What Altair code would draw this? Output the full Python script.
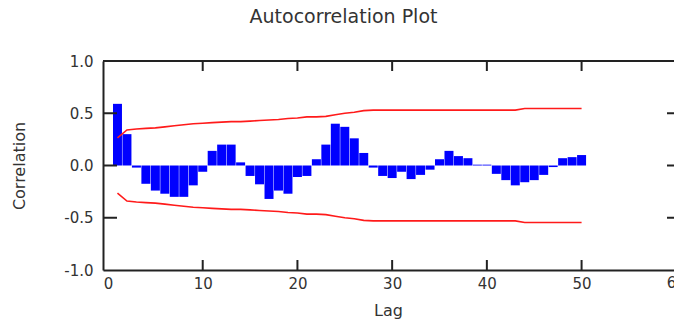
import altair as alt
import pandas as pd

# Sample autocorrelation by lag
lags = list(range(1, 51))
acf = [0.59, 0.30, -0.02, -0.175, -0.24, -0.27, -0.30, -0.30, -0.19, -0.06,
       0.14, 0.20, 0.20, 0.03, -0.10, -0.18, -0.32, -0.24, -0.27, -0.11,
       -0.10, 0.06, 0.20, 0.40, 0.37, 0.26, 0.12, -0.02, -0.10, -0.12,
       -0.06, -0.13, -0.09, -0.04, 0.06, 0.14, 0.09, 0.07, 0.008, 0.008,
       -0.08, -0.14, -0.19, -0.16, -0.14, -0.09, -0.015, 0.07, 0.08, 0.10]

# Half-width of the confidence band at each lag
band = [0.265, 0.34, 0.35, 0.355, 0.36, 0.37, 0.38, 0.39, 0.40, 0.405,
        0.41, 0.415, 0.42, 0.42, 0.425, 0.43, 0.435, 0.44, 0.45, 0.455,
        0.465, 0.465, 0.47, 0.485, 0.50, 0.51, 0.525, 0.53, 0.53, 0.53,
        0.53, 0.53, 0.53, 0.53, 0.53, 0.53, 0.53, 0.53, 0.53, 0.53,
        0.53, 0.53, 0.53, 0.545, 0.545, 0.545, 0.545, 0.545, 0.545, 0.545]

x_ticks = [0, 10, 20, 30, 40, 50, 60]
y_ticks = [-1.0, -0.5, 0.0, 0.5, 1.0]

FONT = "DejaVu Sans"
TEXT = "#333333"
AXIS = "#222222"
W, H = 571, 209

acf_df = pd.DataFrame({"lag": lags, "acf": acf})
band_df = pd.DataFrame({
    "lag": lags * 2,
    "acf": band + [-b for b in band],
    "side": ["upper"] * len(lags) + ["lower"] * len(lags),
})

x_scale = alt.Scale(domain=[0, 59.23], nice=False, zero=False)
y_scale = alt.Scale(domain=[-1, 1], nice=False)

x_axis = alt.Axis(
    values=x_ticks, format="d", tickSize=0, labelPadding=6, labelFlush=False,
    labelFont=FONT, labelFontSize=15, labelColor=TEXT,
    domainColor=AXIS, domainWidth=2, grid=False,
    title="Lag", titleFont=FONT, titleFontSize=16, titleFontWeight="normal",
    titleColor=TEXT, titleX=285, titleY=45, titleBaseline="alphabetic",
)
y_axis = alt.Axis(
    values=y_ticks, tickSize=0, labelPadding=10, labelFlush=False,
    labelExpr="(datum.value < 0 ? '-' : '') + format(abs(datum.value), '.1f')",
    labelFont=FONT, labelFontSize=15, labelColor=TEXT,
    domainColor=AXIS, domainWidth=2, grid=False,
    title="Correlation", titleFont=FONT, titleFontSize=16, titleFontWeight="normal",
    titleColor=TEXT, titleAngle=270, titleX=-84, titleY=104.5, titleBaseline="middle",
)

X = alt.X("lag:Q", scale=x_scale, axis=x_axis)
Y = alt.Y("acf:Q", scale=y_scale, axis=y_axis)

bars = alt.Chart(acf_df).mark_bar(size=9, color="#0000ff").encode(x=X, y=Y)

limits = alt.Chart(band_df).mark_line(color="#ff1a1a", strokeWidth=1.6).encode(
    x=X, y=Y, detail="side:N"
)

# Frame: top edge and inward-pointing ticks on all four sides
frame_top = alt.Chart(pd.DataFrame({"k": [0]})).mark_rule(color=AXIS, strokeWidth=2).encode(
    x=alt.value(0), x2=alt.value(W), y=alt.value(0)
)
xt_df = pd.DataFrame({"lag": x_ticks[1:-1]})
yt_df = pd.DataFrame({"acf": y_ticks[1:-1]})
tick_style = dict(color=AXIS, strokeWidth=2)
bottom_ticks = alt.Chart(xt_df).mark_rule(**tick_style).encode(
    x=X, y=alt.value(H), y2=alt.value(H - 10)
)
top_ticks = alt.Chart(xt_df).mark_rule(**tick_style).encode(
    x=X, y=alt.value(0), y2=alt.value(10)
)
left_ticks = alt.Chart(yt_df).mark_rule(**tick_style).encode(
    y=Y, x=alt.value(0), x2=alt.value(14)
)
right_ticks = alt.Chart(yt_df).mark_rule(**tick_style).encode(
    y=Y, x=alt.value(564), x2=alt.value(578)
)

# Last x tick label, which sits past the right edge of the visible area
edge_label = alt.Chart(pd.DataFrame({"lag": [x_ticks[-1]]})).mark_text(
    font=FONT, fontSize=15, color=TEXT, align="center", baseline="top"
).encode(x=X, y=alt.value(H + 6), text=alt.Text("lag:Q", format="d"))

chart = alt.layer(
    bars, limits, frame_top, bottom_ticks, top_ticks, left_ticks, right_ticks, edge_label
).properties(
    width=W,
    height=H,
    title=alt.TitleParams(
        "Autocorrelation Plot", font=FONT, fontSize=19, fontWeight="normal",
        color=TEXT, anchor="middle", dx=-45, offset=27,
    ),
    autosize=alt.AutoSizeParams(type="none"),
    padding={"left": 103, "top": 61, "right": 0, "bottom": 52},
).configure_view(strokeWidth=0).configure(background="white")

chart.save("out.html", embed_options={"renderer": "svg", "actions": False})
